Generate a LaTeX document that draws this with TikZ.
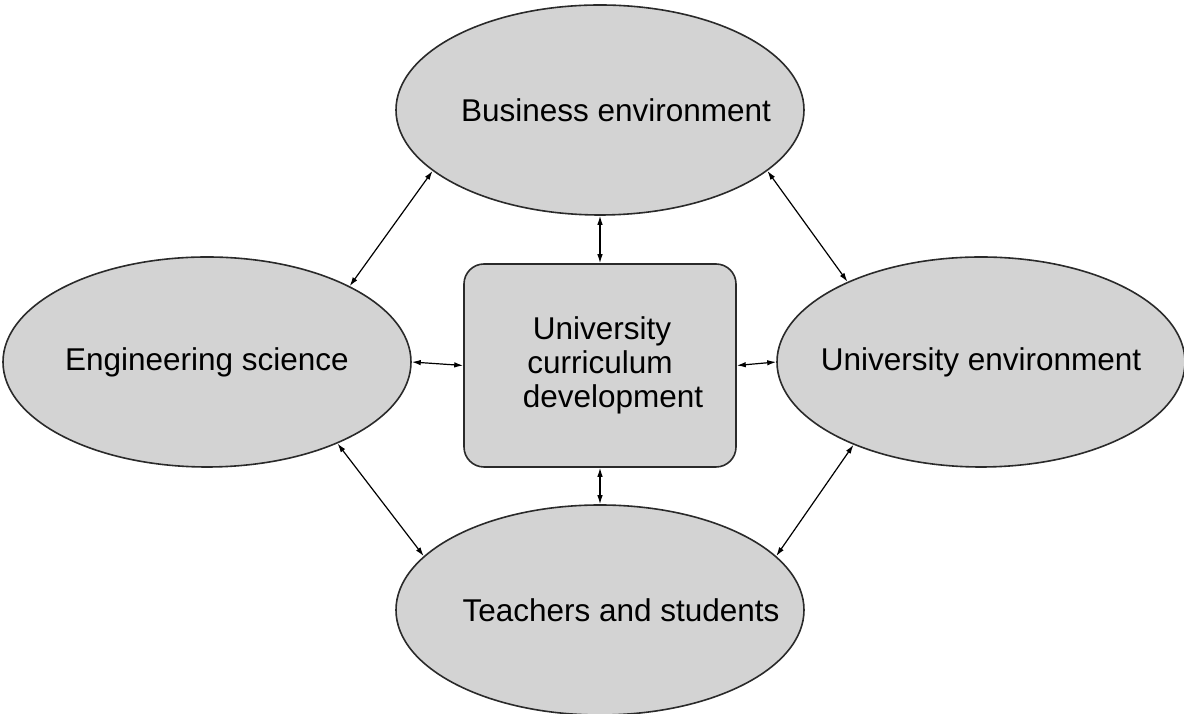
\documentclass[tikz,border=0pt]{standalone}
\usepackage{fontspec}
\setmainfont{Liberation Sans}
\usetikzlibrary{shapes.geometric,arrows.meta}
\definecolor{shade}{HTML}{D3D3D3}
\definecolor{edge}{HTML}{2A2A2A}
\newcommand{\zw}[1]{\makebox[0pt][c]{#1}}
\tikzset{
  oval/.style={ellipse, draw=edge, line width=1.6pt, fill=shade, minimum width=408pt, minimum height=210pt, inner sep=0pt, font=\fontsize{31.5}{38}\selectfont},
  centrebox/.style={rectangle, rounded corners=20pt, draw=edge, line width=1.6pt, fill=shade, minimum width=272pt, minimum height=203pt, inner sep=0pt, align=center, font=\fontsize{31.5}{34}\selectfont},
  link/.style={line width=1.2pt, draw=black, {Latex[length=9pt,width=5.5pt]}-{Latex[length=9pt,width=5.5pt]}}
}
\begin{document}
\begin{tikzpicture}[x=1pt,y=1pt]
\path[use as bounding box] (0,0) rectangle (1184,714);
\node[oval] (top) at (600,604) {\zw{\hspace*{32pt}Business environment}};
\node[oval] (left) at (207,352) {\zw{Engineering science}};
\node[oval] (right) at (981,352) {\zw{University environment}};
\node[oval] (bottom) at (600,104) {\zw{\hspace*{42pt}Teachers and students}};
\node[centrebox] (box) at (600,348.5) {\hspace*{4pt}University\\curriculum\\\hspace*{26pt}development};
\draw[link] (top.south) -- (box.north);
\draw[link] (bottom.north) -- (box.south);
\draw[link] (left.east) -- (box.west);
\draw[link] (right.west) -- (box.east);
\draw[link] (top.200) -- (left.28);
\draw[link] (top.340) -- (right.149);
\draw[link] (left.328) -- (bottom.163);
\draw[link] (right.213) -- (bottom.17);
\end{tikzpicture}
\end{document}
